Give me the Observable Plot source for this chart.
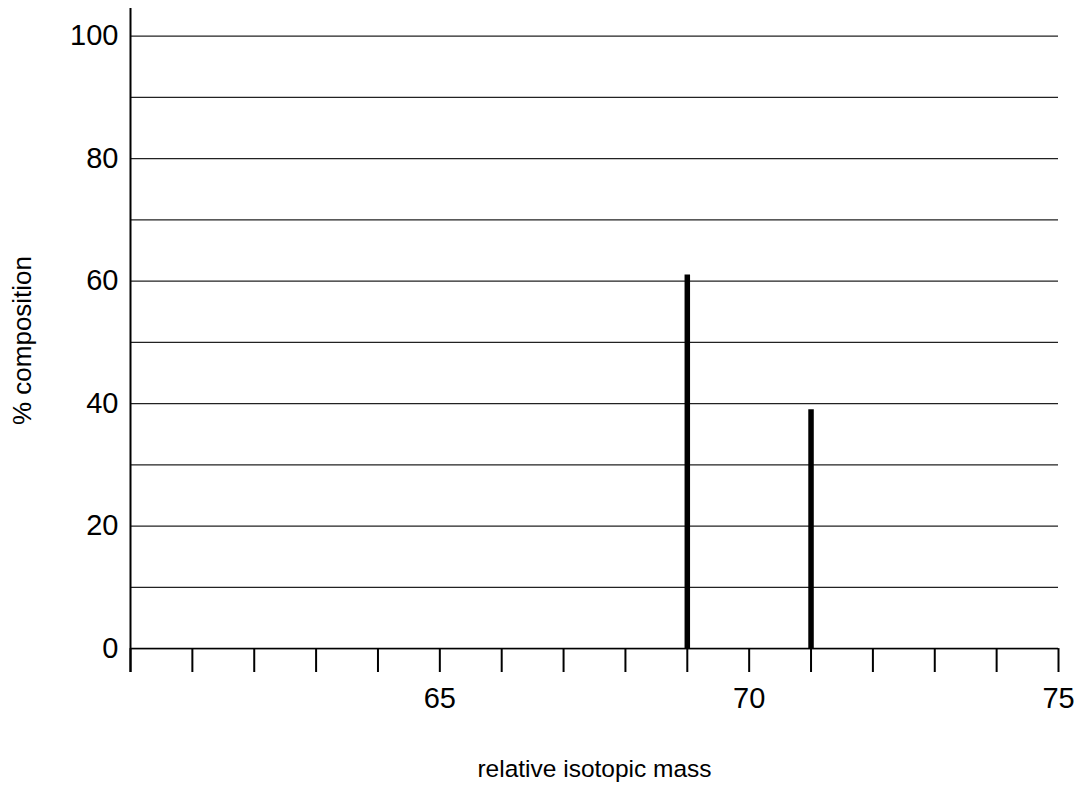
<!DOCTYPE html>
<html>
<head>
<meta charset="utf-8">
<script src="https://cdn.jsdelivr.net/npm/d3@7"></script>
<script src="https://cdn.jsdelivr.net/npm/@observablehq/plot@0.6"></script>
<style>
  html, body { margin: 0; padding: 0; background: #fff; }
  #chart svg { display: block; }
</style>
</head>
<body>
<div id="chart"></div>
<script>
// Isotopes (relative isotopic mass) and % composition
const masses = [69, 71];
const composition = [61, 39];
// Axis ticks
const xMinorTicks = d3.range(60, 76);     // every integer mass
const xTickLabels = [65, 70, 75];
const yGridValues = d3.range(0, 101, 10);
const yTickLabels = [0, 20, 40, 60, 80, 100];
const xLabel = "relative isotopic mass";
const yLabel = "% composition";

const peaks = masses.map((m, i) => ({mass: m, pct: composition[i]}));

const chart = Plot.plot({
  width: 1074,
  height: 794,
  marginLeft: 130,
  marginRight: 16,
  marginTop: 8,
  marginBottom: 122,
  style: {fontFamily: "'Liberation Sans', Arial, Helvetica, sans-serif", fontSize: "29px", color: "#000", background: "#fff"},
  x: {domain: [60, 75]},
  y: {domain: [-3.9, 104.5]},
  marks: [
    // horizontal gridlines
    Plot.ruleY(yGridValues, {x1: 60, x2: 75, stroke: "#222", strokeWidth: 1.2}),
    // y-axis line
    Plot.ruleX([60], {y1: -3.9, y2: 104.5, stroke: "#000", strokeWidth: 2}),
    // x ticks hanging below the baseline
    Plot.ruleX(xMinorTicks, {y1: 0, y2: -3.9, stroke: "#000", strokeWidth: 2}),
    // baseline
    Plot.ruleY([0], {x1: 60, x2: 75, stroke: "#000", strokeWidth: 1.5}),
    // peaks
    Plot.ruleX(peaks, {x: "mass", y1: 0, y2: "pct", stroke: "#000", strokeWidth: 5.5}),
    Plot.axisX(xTickLabels, {tickSize: 0, tickPadding: 15, label: null, fontSize: 29, tickFormat: d => String(d)}),
    Plot.axisY(yTickLabels, {tickSize: 0, tickPadding: 12, label: null, fontSize: 29}),
    Plot.text([xLabel], {frameAnchor: "bottom", dy: 104, text: d => d, fontSize: 24.5}),
    Plot.text([yLabel], {frameAnchor: "left", dx: -108, rotate: -90, textAnchor: "middle", text: d => d, fontSize: 26})
  ]
});
document.getElementById("chart").appendChild(chart);
</script>
</body>
</html>
